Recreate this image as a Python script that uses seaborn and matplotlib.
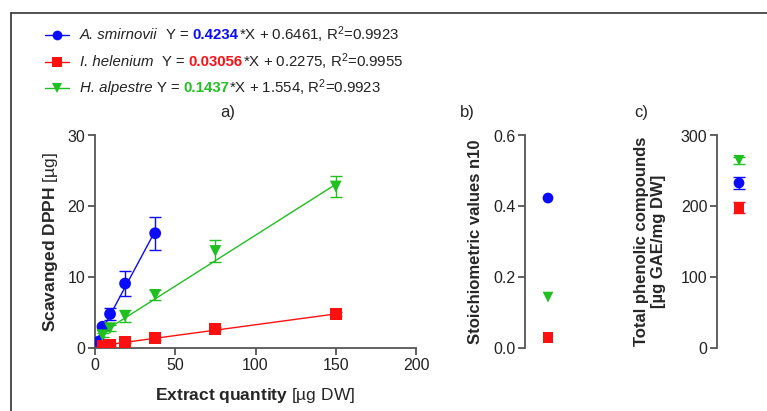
import matplotlib
matplotlib.use("Agg")
import matplotlib.pyplot as plt
from matplotlib.lines import Line2D
import seaborn as sns
import pandas as pd
import numpy as np

# ---- data ----
species = ["A. smirnovii", "I. helenium", "H. alpestre"]
colors = ["#0a0aff", "#ff1010", "#20c020"]
markers = ["o", "s", "v"]
slopes = [0.4234, 0.03056, 0.1437]
slope_txt = ["0.4234", "0.03056", "0.1437"]
intercepts = [0.6461, 0.2275, 1.554]
intercept_txt = ["0.6461", "0.2275", "1.554"]
r2_txt = ["0.9923", "0.9955", "0.9923"]

x_smir = [2.34, 4.69, 9.375, 18.75, 37.5]
y_smir = [0.9, 3.0, 4.8, 9.1, 16.2]
e_smir = [0.6, 0.4, 0.9, 1.8, 2.3]

x_hel = [4.69, 9.375, 18.75, 37.5, 75, 150]
y_hel = [0.35, 0.45, 0.8, 1.4, 2.7, 4.8]
e_hel = [0.1, 0.1, 0.15, 0.2, 0.2, 0.25]

x_alp = [4.69, 9.375, 18.75, 37.5, 75, 150]
y_alp = [1.8, 2.8, 4.5, 7.5, 13.7, 22.8]
e_alp = [0.3, 0.4, 0.8, 0.7, 1.6, 1.5]

stoich = [0.4234, 0.03056, 0.1437]
phenolic = [233, 198, 265]
phenolic_err = [8, 8, 5]

# ---- style ----
sns.set_theme(style="ticks")
plt.rcParams["font.family"] = ["Liberation Sans", "DejaVu Sans"]
plt.rcParams["mathtext.fontset"] = "custom"
plt.rcParams["mathtext.rm"] = "Liberation Sans"
plt.rcParams["mathtext.it"] = "Liberation Sans:italic"
plt.rcParams["mathtext.bf"] = "Liberation Sans:bold"
spine_col = "#555555"

W, H = 767, 411
fig = plt.figure(figsize=(W / 100, H / 100), dpi=100)

def ax_at(l, r, t, b):
    return fig.add_axes([l / W, 1 - b / H, (r - l) / W, (b - t) / H])

def style_axis(ax, bottom=True):
    for s in ["top", "right"]:
        ax.spines[s].set_visible(False)
    ax.spines["left"].set_color(spine_col)
    ax.spines["left"].set_linewidth(1.3)
    if bottom:
        ax.spines["bottom"].set_color(spine_col)
        ax.spines["bottom"].set_linewidth(1.3)
    else:
        ax.spines["bottom"].set_visible(False)
        ax.tick_params(axis="x", bottom=False, labelbottom=False)
    ax.tick_params(axis="both", direction="out", length=5, width=1.3,
                   color=spine_col, labelsize=11.5, labelcolor="#222222", pad=2)
    ax.set_facecolor("none")
    ax.grid(False)

# ---- panel a ----
axa = ax_at(95, 416, 135.5, 348)
series = [(x_smir, y_smir, e_smir), (x_hel, y_hel, e_hel), (x_alp, y_alp, e_alp)]
for i, (xs, ys, es) in enumerate(series):
    xl = np.array([min(xs), max(xs)])
    dfl = pd.DataFrame({"x": xl, "y": slopes[i] * xl + intercepts[i]})
    sns.lineplot(data=dfl, x="x", y="y", ax=axa, color=colors[i], lw=1.0)
    axa.errorbar(xs, ys, yerr=es, fmt="none", ecolor=colors[i], elinewidth=1.0,
                 capsize=4, capthick=1.0)
    dfp = pd.DataFrame({"x": xs, "y": ys})
    sns.scatterplot(data=dfp, x="x", y="y", ax=axa, color=colors[i],
                    marker=markers[i], s=72, edgecolor="none", zorder=3)
axa.set_xlim(0, 200)
axa.set_ylim(0, 30)
axa.set_xticks([0, 50, 100, 150, 200])
axa.set_yticks([0, 10, 20, 30])
style_axis(axa)
axa.set_xlabel(r"$\bf{Extract\ quantity}$ [µg DW]", fontsize=12.5)
axa.xaxis.set_label_coords(0.5, -0.178)
axa.set_ylabel(r"$\bf{Scavanged\ DPPH}$ [µg]", fontsize=12.5)
axa.yaxis.set_label_coords(-0.108, 0.5)
fig.text(228 / W, 1 - 113 / H, "a)", fontsize=12, ha="center", va="center")

# ---- panel b ----
axb = ax_at(525, 571, 135.5, 348)
for i in range(3):
    sns.scatterplot(x=[1], y=[stoich[i]], ax=axb, color=colors[i],
                    marker=markers[i], s=60, edgecolor="none")
axb.set_xlim(0, 2)
axb.set_ylim(0, 0.6)
axb.set_yticks([0, 0.2, 0.4, 0.6])
axb.set_yticklabels(["0.0", "0.2", "0.4", "0.6"])
style_axis(axb, bottom=False)
axb.set_xlabel("")
axb.set_ylabel("Stoichiometric values n10", fontsize=12, fontweight="bold")
axb.yaxis.set_label_coords(-0.915, 0.5)
fig.text(467 / W, 1 - 113 / H, "b)", fontsize=12, ha="center", va="center")

# ---- panel c ----
axc = ax_at(717, 761, 135.5, 348)
for i in range(3):
    axc.errorbar([1], [phenolic[i]], yerr=[phenolic_err[i]], fmt="none",
                 ecolor=colors[i], elinewidth=1.0, capsize=4, capthick=1.0)
    sns.scatterplot(x=[1], y=[phenolic[i]], ax=axc, color=colors[i],
                    marker=markers[i], s=60, edgecolor="none", zorder=3)
axc.set_xlim(0, 2)
axc.set_ylim(0, 300)
axc.set_yticks([0, 100, 200, 300])
style_axis(axc, bottom=False)
axc.set_xlabel("")
axc.set_ylabel("Total phenolic compounds\n[µg GAE/mg DW]", fontsize=12,
               fontweight="bold", linespacing=1.2)
axc.yaxis.set_label_coords(-1.15, 0.5)
fig.text(641 / W, 1 - 113 / H, "c)", fontsize=12, ha="center", va="center")

# ---- legend (manual) ----
fig.canvas.draw()
renderer = fig.canvas.get_renderer()
rows_y = [35, 62, 88]
for i in range(3):
    yf = 1 - rows_y[i] / H
    fig.add_artist(Line2D([45 / W, 69 / W], [yf, yf], color=colors[i], lw=1.0))
    fig.add_artist(Line2D([57 / W], [yf], color=colors[i], marker=markers[i],
                          markersize=7, markeredgewidth=0, linestyle="none"))
    pieces = [
        (species[i] + ("  " if i < 2 else " "), dict(style="italic", color="#222222")),
        ("Y = ", dict(color="#222222")),
        (slope_txt[i], dict(color=colors[i], weight="bold")),
        ("*X + " + intercept_txt[i] + ", R$^{2}$=" + r2_txt[i], dict(color="#222222")),
    ]
    x = 80
    for txt, kw in pieces:
        t = fig.text(x / W, yf, txt, fontsize=10.8, va="center", ha="left", **kw)
        x += t.get_window_extent(renderer).width

# ---- frame ----
fig.add_artist(Line2D([11 / W, 11 / W], [0, 1 - 13 / H], color="#333333", lw=1.2))
fig.add_artist(Line2D([11 / W, 1], [1 - 13 / H, 1 - 13 / H], color="#333333", lw=1.2))

fig.savefig("out.png", dpi=100)
